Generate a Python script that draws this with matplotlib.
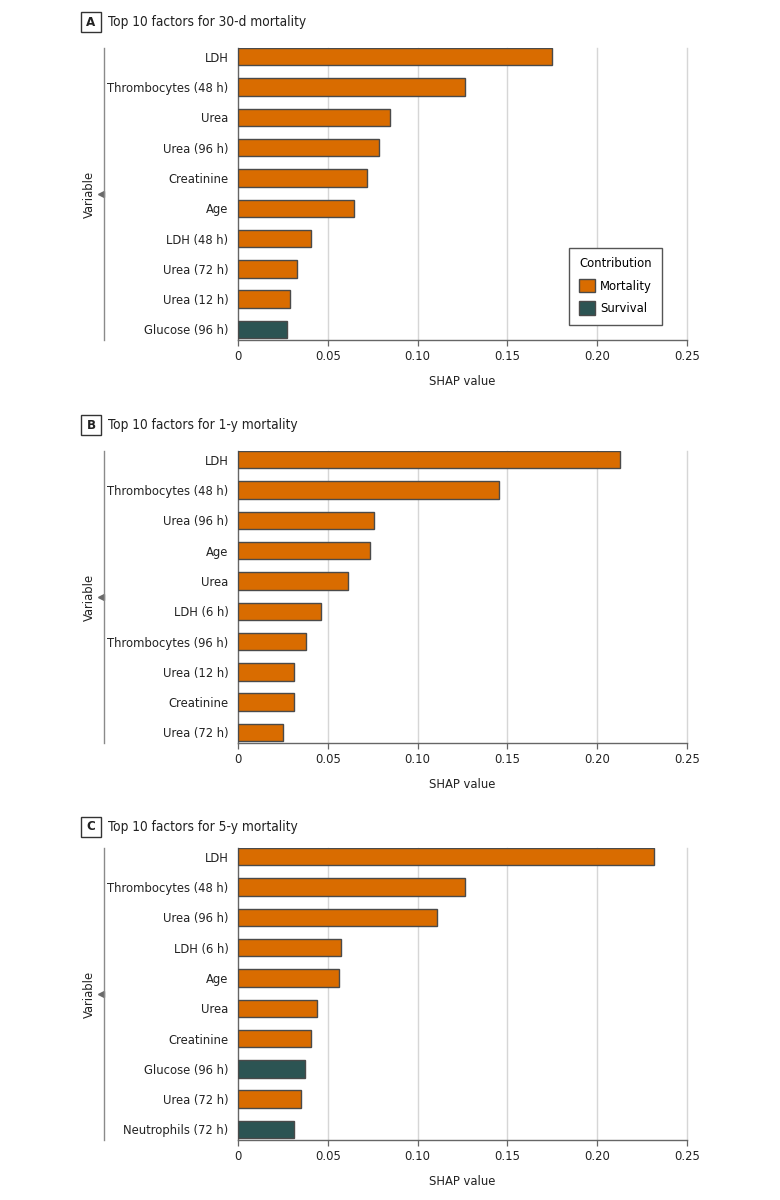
import matplotlib.pyplot as plt
from matplotlib.lines import Line2D
from matplotlib.patches import Patch, Rectangle
from matplotlib import transforms

plt.rcParams["font.family"] = ["DejaVu Sans"]
plt.rcParams["font.stretch"] = "condensed"

ORANGE = "#D96C00"
TEAL = "#2C5453"
EDGE = "#4a4a4a"
GRID = "#d6d6d6"
SPINE = "#666666"
TEXT = "#222222"

# panel A: 30-d mortality
a_vars = ["LDH", "Thrombocytes (48 h)", "Urea", "Urea (96 h)", "Creatinine", "Age",
          "LDH (48 h)", "Urea (72 h)", "Urea (12 h)", "Glucose (96 h)"]
a_shap = [0.175, 0.1263, 0.0844, 0.0782, 0.0715, 0.0647, 0.0404, 0.0330, 0.0291, 0.0274]
a_dir = ["M", "M", "M", "M", "M", "M", "M", "M", "M", "S"]

# panel B: 1-y mortality
b_vars = ["LDH", "Thrombocytes (48 h)", "Urea (96 h)", "Age", "Urea", "LDH (6 h)",
          "Thrombocytes (96 h)", "Urea (12 h)", "Creatinine", "Urea (72 h)"]
b_shap = [0.2127, 0.1452, 0.0755, 0.0735, 0.0611, 0.0463, 0.0380, 0.0310, 0.0310, 0.0252]
b_dir = ["M", "M", "M", "M", "M", "M", "M", "M", "M", "M"]

# panel C: 5-y mortality
c_vars = ["LDH", "Thrombocytes (48 h)", "Urea (96 h)", "LDH (6 h)", "Age", "Urea",
          "Creatinine", "Glucose (96 h)", "Urea (72 h)", "Neutrophils (72 h)"]
c_shap = [0.2320, 0.1266, 0.1110, 0.0574, 0.0563, 0.0441, 0.0406, 0.0370, 0.0352, 0.0313]
c_dir = ["M", "M", "M", "M", "M", "M", "M", "S", "M", "S"]

ticks = [0, 0.05, 0.10, 0.15, 0.20, 0.25]
tick_labels = ["0", "0.05", "0.10", "0.15", "0.20", "0.25"]

W, H = 780, 1200
fig = plt.figure(figsize=(W / 100, H / 100), dpi=100, facecolor="white")

panels = [
    ("A", "Top 10 factors for 30-d mortality", a_vars, a_shap, a_dir, 48, 22),
    ("B", "Top 10 factors for 1-y mortality", b_vars, b_shap, b_dir, 451, 425),
    ("C", "Top 10 factors for 5-y mortality", c_vars, c_shap, c_dir, 848, 827),
]

ax_left, ax_right = 238.3, 686.7
ax_h = 292
FS = 9.3

for letter, title, names, vals, dirs, top, title_y in panels:
    ax = fig.add_axes([ax_left / W, 1 - (top + ax_h) / H, (ax_right - ax_left) / W, ax_h / H])
    colors = [ORANGE if d == "M" else TEAL for d in dirs]
    ax.barh(range(len(names)), vals, height=0.575, color=colors, edgecolor=EDGE, linewidth=1, zorder=3)
    ax.set_ylim(9.35, -0.29)
    ax.set_xlim(0, 0.25)
    ax.set_yticks(range(len(names)))
    ax.set_yticklabels(names, fontsize=FS, color=TEXT)
    ax.set_xticks(ticks)
    ax.set_xticklabels(tick_labels, fontsize=FS, color=TEXT)
    ax.tick_params(axis="y", length=0, pad=7)
    ax.tick_params(axis="x", length=4, width=0.9, color=SPINE, pad=3.5)
    for t in ticks[1:]:
        ax.axvline(t, color=GRID, lw=1, zorder=1, clip_on=False)
    for s in ["top", "right"]:
        ax.spines[s].set_visible(False)
    for s in ["left", "bottom"]:
        ax.spines[s].set_color(SPINE)
        ax.spines[s].set_linewidth(1)
    ax.set_xlabel("SHAP value", fontsize=FS, color=TEXT, labelpad=8)

    # "Variable" bracket on the left
    trans = transforms.blended_transform_factory(fig.transFigure, ax.transAxes)
    fig.add_artist(Line2D([104 / W, 104 / W], [0, 1], transform=trans, color="#8a8a8a", lw=1))
    ax.plot([101 / W], [0.5], marker="<", ms=4, color="#6a6a6a", transform=trans, clip_on=False)
    fig.text(89 / W, 0.5, "Variable", transform=trans, rotation=90, ha="center", va="center",
             fontsize=FS, color=TEXT)

    # panel letter box and title
    fig.add_artist(Rectangle((81 / W, 1 - (title_y + 10) / H), 20 / W, 20 / H,
                             transform=fig.transFigure, facecolor="white", edgecolor="#333333", lw=1))
    fig.text(91 / W, 1 - title_y / H, letter, ha="center", va="center", fontsize=9.5,
             weight="bold", color=TEXT)
    fig.text(108 / W, 1 - title_y / H, title, ha="left", va="center", fontsize=9.8, color=TEXT)

    if letter == "A":
        handles = [Patch(facecolor=ORANGE, edgecolor=EDGE, label="Mortality"),
                   Patch(facecolor=TEAL, edgecolor=EDGE, label="Survival")]
        leg = ax.legend(handles=handles, title="Contribution", loc="lower left",
                        bbox_to_anchor=(0.7375, 0.051), borderaxespad=0,
                        fontsize=FS, title_fontsize=FS,
                        frameon=True, fancybox=False, framealpha=1,
                        handlelength=1.25, handleheight=1.25, handletextpad=0.4,
                        borderpad=0.75, labelspacing=0.65)
        leg.get_frame().set_edgecolor("#555555")
        leg.get_frame().set_linewidth(1)
        leg.set_zorder(5)

fig.savefig("out.png", dpi=100, facecolor="white")
